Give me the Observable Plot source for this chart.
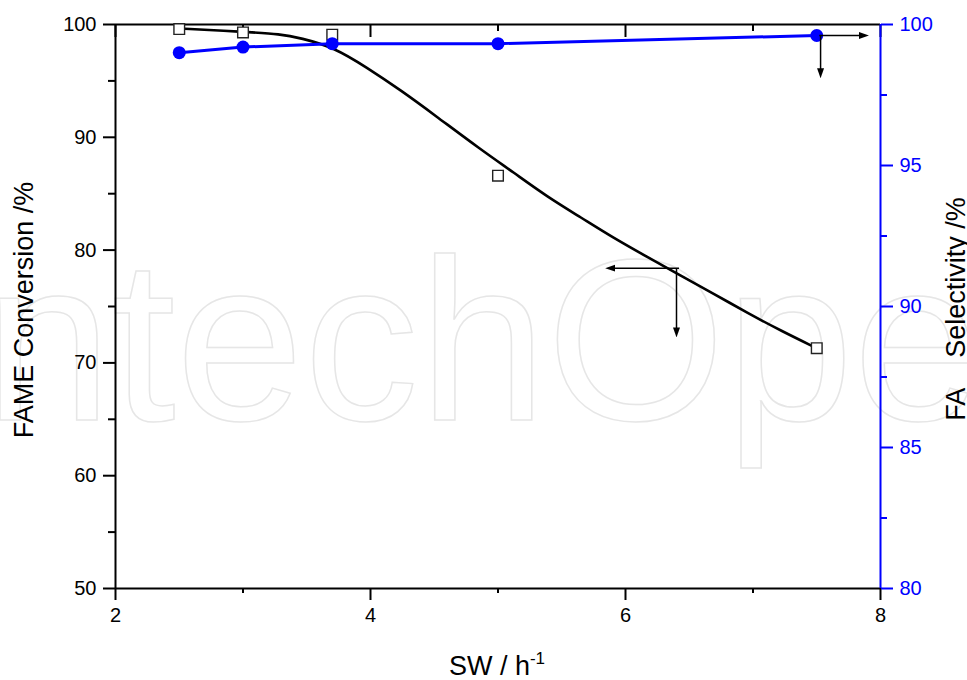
<!DOCTYPE html>
<html><head><meta charset="utf-8">
<script src="https://cdn.jsdelivr.net/npm/d3@7"></script>
<script src="https://cdn.jsdelivr.net/npm/@observablehq/plot@0.6"></script>
<style>
body{margin:0;background:#fff;}
#wrap{position:relative;width:967px;height:680px;overflow:hidden;background:#fff;}
#wm{position:absolute;left:0;top:0;}
#chart{position:absolute;left:0;top:0;}
</style></head><body>
<div id="wrap">
<svg id="wm" width="967" height="680"><text x="-80" y="420" font-family="Liberation Sans, Arial, sans-serif" font-size="230" fill="none" stroke="#e6e6e6" stroke-width="1.5">IntechOpen</text></svg>
<div id="chart"></div>
</div>
<script>
// measured data
const sw = [2.5, 3, 3.7, 5, 7.5];
const fameConversion = [99.6, 99.3, 99.1, 86.6, 71.3];
const faSelectivity = [99.0, 99.2, 99.32, 99.32, 99.61];
// fitted curve
const fitX = [2.5, 3.0, 3.3, 3.45, 3.71, 3.97, 4.24, 4.5, 4.86, 5.12, 5.39, 5.65, 5.91, 6.17, 6.43, 6.69, 6.96, 7.22, 7.5];
const fitY = [99.65, 99.35, 99.15, 98.8, 98.0, 96.2, 94.15, 92.0, 88.95, 86.9, 84.7, 82.9, 81.05, 79.4, 77.75, 76.15, 74.4, 72.85, 71.3];
// ticks
const xTicks = [2, 4, 6, 8];
const xMinor = [3, 5, 7];
const leftTicks = [50, 60, 70, 80, 90, 100];
const leftMinor = [55, 65, 75, 85, 95];
const rightTicks = [80, 85, 90, 95, 100];
const rightMinor = [82.5, 87.5, 92.5, 97.5];
// pointer arrows (conversion units / selectivity units)
const convArrowX1 = [6.42, 6.40], convArrowY1 = [78.4, 78.4], convArrowX2 = [5.88, 6.40], convArrowY2 = [78.4, 72.7];
const selArrowX1 = [7.52, 7.53], selArrowY1 = [99.61, 99.61], selArrowX2 = [7.87, 7.53], selArrowY2 = [99.61, 98.27];

const toLeft = s => 50 + (s - 80) * 2.5;
const fromLeft = v => 80 + (v - 50) / 2.5;

const conv = sw.map((x, i) => ({x, y: fameConversion[i]}));
const sel = sw.map((x, i) => ({x, y: toLeft(faSelectivity[i])}));
const fit = fitX.map((x, i) => ({x, y: fitY[i]}));
const arrows = [
  ...convArrowX1.map((x1, i) => ({x1, y1: convArrowY1[i], x2: convArrowX2[i], y2: convArrowY2[i]})),
  ...selArrowX1.map((x1, i) => ({x1, y1: toLeft(selArrowY1[i]), x2: selArrowX2[i], y2: toLeft(selArrowY2[i])}))
];

const F = 20;
const svg = Plot.plot({
  width: 967, height: 680,
  marginLeft: 115, marginRight: 87, marginTop: 24, marginBottom: 92,
  style: {fontFamily: "Liberation Sans, Arial, sans-serif", fontSize: "20px", background: "transparent", overflow: "visible"},
  x: {domain: [2, 8]},
  y: {domain: [50, 100]},
  marks: [
    Plot.axisX({ticks: xTicks, tickSize: 12, tickPadding: 7, tickFormat: d => String(d), fontSize: F, strokeWidth: 2, label: null, fill: "black"}),
    Plot.axisX({ticks: xMinor, tickSize: 5, tickFormat: () => "", strokeWidth: 2, label: null}),
    Plot.axisX({anchor: "top", ticks: xTicks, tickSize: -12, tickFormat: () => "", strokeWidth: 2, label: null}),
    Plot.axisX({anchor: "top", ticks: xMinor, tickSize: -6, tickFormat: () => "", strokeWidth: 2, label: null}),
    Plot.axisY({ticks: leftTicks, tickSize: 12, tickPadding: 7, tickFormat: d => String(d), fontSize: F, strokeWidth: 2, label: null, fill: "black"}),
    Plot.axisY({ticks: leftMinor, tickSize: 7, tickFormat: () => "", strokeWidth: 2, label: null}),
    Plot.axisY({anchor: "right", ticks: rightTicks.map(toLeft), tickFormat: d => String(Math.round(fromLeft(d))), tickSize: 12, tickPadding: 7, fontSize: F, strokeWidth: 2, stroke: "#0000ff", fill: "#0000ff", label: null}),
    Plot.axisY({anchor: "right", ticks: rightMinor.map(toLeft), tickFormat: () => "", tickSize: 6, strokeWidth: 2, stroke: "#0000ff", label: null}),
    Plot.ruleY([100], {stroke: "black", strokeWidth: 2}),
    Plot.ruleY([50], {stroke: "black", strokeWidth: 2}),
    Plot.ruleX([2], {stroke: "black", strokeWidth: 2}),
    Plot.ruleX([8], {stroke: "#0000ff", strokeWidth: 2}),
    Plot.line(fit, {x: "x", y: "y", curve: "basis", stroke: "black", strokeWidth: 2.6}),
    Plot.line(sel, {x: "x", y: "y", curve: "linear", stroke: "#0000ff", strokeWidth: 3}),
    Plot.dot(conv, {x: "x", y: "y", symbol: "square", r: 6, fill: "white", stroke: "#222", strokeWidth: 1.4}),
    Plot.dot(sel, {x: "x", y: "y", r: 6.5, fill: "#0000ff", stroke: "none"}),
    Plot.link(arrows, {x1: "x1", y1: "y1", x2: "x2", y2: "y2", stroke: "black", strokeWidth: 1.5, markerEnd: "arrow"})
  ]
});

const s = d3.select(svg);
s.selectAll("marker").attr("fill", "black").attr("stroke", "none")
  .select("path").attr("d", "M-5,-3.5L5,0L-5,3.5Z").attr("fill", "black").attr("stroke", "none");

s.append("text")
  .attr("x", 497).attr("y", 675).attr("text-anchor", "middle")
  .attr("font-size", 27).attr("fill", "black")
  .call(t => { t.append("tspan").text("SW / h"); t.append("tspan").attr("font-size", 17).attr("dy", -11).text("-1"); });

s.append("text")
  .attr("transform", "translate(33,310) rotate(-90)").attr("text-anchor", "middle")
  .attr("font-size", 27).attr("fill", "black").text("FAME Conversion /%");

s.append("text")
  .attr("transform", "translate(965,309) rotate(-90)").attr("text-anchor", "middle")
  .attr("font-size", 27).attr("fill", "black").text("FA\u00a0\u00a0\u00a0 Selectivity /%");

document.getElementById("chart").append(svg);
</script>
</body></html>
